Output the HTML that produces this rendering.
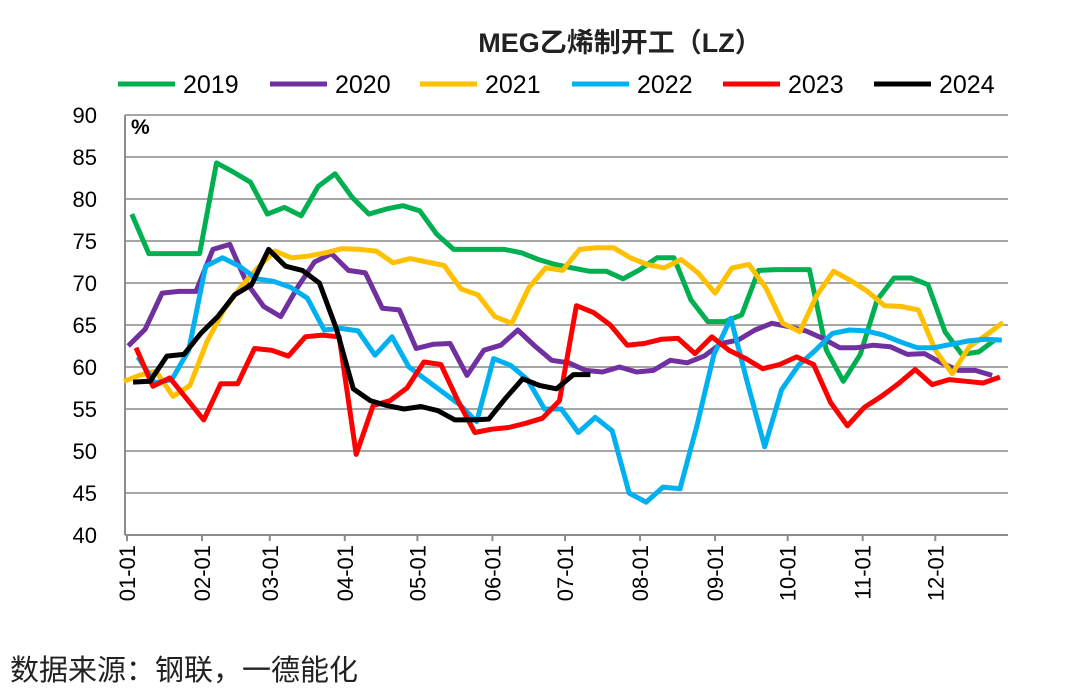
<!DOCTYPE html>
<html><head><meta charset="utf-8">
<style>
body{margin:0;background:#fff;}
svg text{font-family:"Liberation Sans","Noto Sans CJK SC",sans-serif;}
</style></head>
<body>
<svg id="chart" width="1080" height="692" viewBox="0 0 1080 692" xmlns="http://www.w3.org/2000/svg">
<rect width="1080" height="692" fill="#fff"/>
<text x="620" y="52" text-anchor="middle" font-size="27" font-weight="bold" fill="#222">MEG乙烯制开工（LZ）</text>
<text x="131" y="134" font-size="21" font-weight="bold" fill="#000">%</text>
<g id="grid"></g><g id="axes"></g><g id="series"></g><g id="legend"></g>
<text x="10" y="680" font-size="29" fill="#222">数据来源：钢联，一德能化</text>
</svg>
<script>
const years=["2019","2020","2021","2022","2023","2024"];
const colors=["#00b050","#7030a0","#ffc000","#00b0f0","#ff0000","#000000"];
const startDays=[2,0.5,-2,4.5,3.7,2.5];
const v2019=[78.2,73.5,73.5,73.5,73.5,84.3,83.2,82,78.2,79,78,81.5,83,80.2,78.2,78.8,79.2,78.6,75.8,74,74,74,74,73.6,72.8,72.2,71.8,71.4,71.4,70.5,71.6,73,73,68,65.4,65.4,66.2,71.5,71.6,71.6,71.6,62,58.3,61.5,68,70.6,70.6,69.8,64.2,61.5,61.8,63.3];
const v2020=[62.5,64.5,68.8,69,69,74,74.6,70,67.2,66,69.5,72.5,73.5,71.5,71.2,67,66.8,62.2,62.7,62.8,59,62,62.6,64.4,62.5,60.8,60.5,59.6,59.4,60,59.4,59.6,60.8,60.5,61.3,62.8,63.2,64.4,65.2,64.8,64.3,63.4,62.3,62.3,62.6,62.4,61.5,61.6,60.5,59.6,59.6,59];
const v2021=[58.3,59,59.5,56.5,57.8,63,66.8,69.5,71.8,73.8,73,73.2,73.6,74.1,74,73.8,72.4,72.9,72.5,72.1,69.3,68.6,66,65.2,69.4,71.8,71.5,74,74.2,74.2,73,72.2,71.8,72.8,71.2,68.8,71.8,72.2,69.4,65.2,64.2,68.5,71.4,70.3,69,67.3,67.2,66.8,62,59.2,62.4,63.8,65.3];
const v2022=[61.2,58.1,58.5,62,72,73,72,70.5,70.2,69.5,68.2,64.4,64.6,64.3,61.4,63.6,60,58.5,57,55.5,53.5,61,60.2,58.5,55,55,52.2,54,52.4,45,43.9,45.7,45.5,53,61.5,65.8,58,50.5,57.3,60.2,62,64,64.4,64.3,63.8,63,62.3,62.3,62.7,63.1,63.3,63.2];
const v2023=[62.3,57.7,58.7,56.2,53.7,58,58,62.2,62,61.3,63.6,63.8,63.6,49.6,55.4,56,57.5,60.6,60.3,56,52.2,52.6,52.8,53.3,53.9,56,67.3,66.5,65,62.6,62.8,63.3,63.4,61.6,63.6,62,61,59.8,60.3,61.2,60.3,55.8,53,55.2,56.5,58,59.7,57.9,58.5,58.3,58.1,58.8];
const v2024=[58.2,58.3,61.3,61.5,64,66,68.6,69.8,74,72,71.5,70,64.6,57.4,56,55.4,55,55.3,54.8,53.7,53.7,53.8,56.3,58.6,57.8,57.4,59.1,59.1];
const seriesVals=[v2019,v2020,v2021,v2022,v2023,v2024];
const yTicks=[40,45,50,55,60,65,70,75,80,85,90];
const monthLabels=["01-01","02-01","03-01","04-01","05-01","06-01","07-01","08-01","09-01","10-01","11-01","12-01"];
const monthStartDays=[0,31,59,90,120,151,181,212,243,273,304,334];

const NS="http://www.w3.org/2000/svg";
const X0=127,PXD=2.42,Y0=535,PPU=8.4;
const xS=d=>X0+d*PXD;
const yS=v=>Y0-(v-40)*PPU;
function mk(t,a,p){const e=document.createElementNS(NS,t);for(const k in a)e.setAttribute(k,a[k]);p.appendChild(e);return e;}
const grid=document.getElementById('grid'),axes=document.getElementById('axes'),ser=document.getElementById('series'),leg=document.getElementById('legend');
yTicks.forEach(t=>{
  if(t>40){const l=mk('line',{x1:125,x2:1008,y1:yS(t),y2:yS(t),stroke:'#a6a6a6','stroke-width':2},grid);
  
  }
  const tx=mk('text',{x:97,y:yS(t)+8,'text-anchor':'end','font-size':22,fill:'#000'},axes);tx.textContent=t;
  
  
});
const ax=mk('line',{x1:125,x2:125,y1:yS(90),y2:Y0,stroke:'#8c8c8c','stroke-width':2},axes);


const bx=mk('line',{x1:125,x2:1008,y1:Y0,y2:Y0,stroke:'#8c8c8c','stroke-width':2},axes);


monthLabels.forEach((m,i)=>{
  const x=xS(monthStartDays[i]);
  const tk=mk('line',{x1:x,x2:x,y1:Y0,y2:Y0+6,stroke:'#8c8c8c','stroke-width':2},axes);
  
  
  const tx=mk('text',{x:0,y:0,'text-anchor':'end','font-size':22,fill:'#000',transform:`translate(${x+8},${Y0+10}) rotate(-90)`},axes);tx.textContent=m;
  
  
});
seriesVals.forEach((vals,s)=>{
  const pts=vals.map((v,i)=>`${Math.max(xS(startDays[s]+i*7),124).toFixed(1)},${yS(v).toFixed(1)}`).join(' ');
  const p=mk('polyline',{points:pts,fill:'none',stroke:colors[s],'stroke-width':5,'stroke-linejoin':'round'},ser);
  
  
});
const legX=[118,270,420,572,723,874];
years.forEach((y,i)=>{
  const l=mk('line',{x1:legX[i],x2:legX[i]+57,y1:84,y2:84,stroke:colors[i],'stroke-width':5},leg);
  
  
  const t=mk('text',{x:legX[i]+65,y:93,'font-size':25,fill:'#000'},leg);t.textContent=y;
  
  
});
</script>
</body></html>
